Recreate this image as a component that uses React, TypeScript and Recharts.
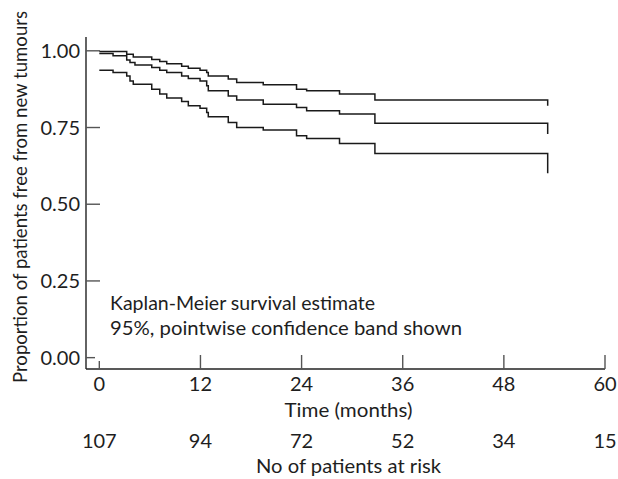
import React from 'react';
import { LineChart, Line, XAxis, YAxis } from 'recharts';

// Event times (months) at which any of the three step curves changes
const times = [0, 1.63, 3.25, 3.64, 4.03, 4.23, 6.22, 7.17, 8.0, 9.77, 10.56, 11.95, 12.74, 12.93, 15.3, 16.3, 19.45, 23.4, 24.6, 28.5, 32.7, 53.2];
// Upper 95% pointwise confidence limit
const upper = [0.998, 0.998, 0.989, 0.989, 0.98, 0.98, 0.972, 0.965, 0.958, 0.95, 0.943, 0.937, 0.929, 0.918, 0.908, 0.897, 0.889, 0.875, 0.87, 0.859, 0.84, 0.821];
// Kaplan-Meier estimate
const estimate = [0.991, 0.984, 0.97, 0.962, 0.962, 0.954, 0.946, 0.937, 0.929, 0.918, 0.91, 0.902, 0.886, 0.87, 0.853, 0.84, 0.826, 0.815, 0.805, 0.794, 0.764, 0.729];
// Lower 95% pointwise confidence limit
const lower = [0.937, 0.929, 0.918, 0.902, 0.891, 0.891, 0.875, 0.859, 0.846, 0.835, 0.821, 0.813, 0.799, 0.785, 0.766, 0.75, 0.742, 0.723, 0.714, 0.698, 0.665, 0.601];

const timeTicks = [0, 12, 24, 36, 48, 60];
const riskCounts = [107, 94, 72, 52, 34, 15];
const yTicks = [0, 0.25, 0.5, 0.75, 1];

const data = times.map((t, i) => ({ t, upper: upper[i], est: estimate[i], lower: lower[i] }));

const FONT = 'Lato, "Open Sans", sans-serif';
const FS = 20;
const TXT = '#1e1e1e';
const TICK = '#555';

const YTick = (props: any) => {
  const { x, y, payload } = props;
  const ax = x + 6;
  const len = payload.value === 0 ? 9 : 14;
  return (
    <g>
      <line x1={ax} x2={ax + len} y1={y} y2={y} stroke={TICK} strokeWidth={1.4} />
      <text x={x} y={y} dy="0.36em" textAnchor="end" fill={TXT} fontSize={FS} fontFamily={FONT}>
        {Number(payload.value).toFixed(2)}
      </text>
    </g>
  );
};

const XTick = (props: any) => {
  const { x, y, payload } = props;
  const ay = y - 8;
  const len = payload.value === 0 ? 8 : 14;
  return (
    <g>
      <line x1={x} x2={x} y1={ay} y2={ay - len} stroke={TICK} strokeWidth={1.4} />
      <text x={x} y={y} dy="0.71em" textAnchor="middle" fill={TXT} fontSize={FS} fontFamily={FONT}>
        {payload.value}
      </text>
    </g>
  );
};

const RiskTick = (props: any) => {
  const { x, y, payload } = props;
  const idx = timeTicks.indexOf(payload.value);
  return (
    <text x={x} y={y} dy="0.71em" textAnchor="middle" fill={TXT} fontSize={FS} fontFamily={FONT}>
      {idx >= 0 ? riskCounts[idx] : ''}
    </text>
  );
};

export default function App() {
  return (
    <div style={{ position: 'absolute', left: 0, top: 0, width: 618, height: 479, background: '#fff' }}>
      <LineChart width={618} height={479} data={data} margin={{ top: 37, right: 13, left: 0, bottom: 0 }}>
        <XAxis
          xAxisId="b_risk"
          dataKey="t"
          type="number"
          domain={[-1.58, 60]}
          allowDataOverflow
          ticks={timeTicks}
          interval={0}
          height={58}
          tickSize={0}
          tickMargin={13}
          tickLine={false}
          axisLine={false}
          tick={<RiskTick />}
          label={{
            content: (p: any) => {
              const vb = p.viewBox;
              return (
                <text x={vb.x + vb.width / 2 + 3} y={vb.y + 52} textAnchor="middle" fill={TXT} fontSize={FS} fontFamily={FONT} textLength={185} lengthAdjust="spacingAndGlyphs">
                  No of patients at risk
                </text>
              );
            },
          }}
        />
        <XAxis
          xAxisId="a_time"
          dataKey="t"
          type="number"
          domain={[-1.58, 60]}
          allowDataOverflow
          ticks={timeTicks}
          interval={0}
          height={52}
          tickSize={0}
          tickMargin={8}
          tickLine={false}
          tick={<XTick />}
          axisLine={{ stroke: '#222', strokeWidth: 1.4 }}
          label={{
            content: (p: any) => {
              const vb = p.viewBox;
              return (
                <text x={vb.x + vb.width / 2 + 3} y={vb.y + 48} textAnchor="middle" fill={TXT} fontSize={FS} fontFamily={FONT} textLength={128} lengthAdjust="spacingAndGlyphs">
                  Time (months)
                </text>
              );
            },
          }}
        />
        <YAxis
          type="number"
          domain={[-0.037, 1.045]}
          allowDataOverflow
          ticks={yTicks}
          interval={0}
          width={86}
          tickSize={0}
          tickMargin={6}
          tickLine={false}
          tick={<YTick />}
          axisLine={{ stroke: '#222', strokeWidth: 1.4 }}
          label={{
            content: (p: any) => {
              const vb = p.viewBox;
              const cx = vb.x + 27;
              const cy = vb.y + vb.height / 2 - 6;
              return (
                <text x={cx} y={cy} transform={`rotate(-90 ${cx} ${cy})`} textAnchor="middle" fill={TXT} fontSize={18.5} fontFamily={FONT} textLength={372} lengthAdjust="spacingAndGlyphs">
                  Proportion of patients free from new tumours
                </text>
              );
            },
          }}
        />
        <Line xAxisId="a_time" type="stepAfter" dataKey="upper" stroke="#1a1a1a" strokeWidth={1.5} dot={false} isAnimationActive={false} />
        <Line xAxisId="a_time" type="stepAfter" dataKey="est" stroke="#1a1a1a" strokeWidth={1.5} dot={false} isAnimationActive={false} />
        <Line xAxisId="a_time" type="stepAfter" dataKey="lower" stroke="#1a1a1a" strokeWidth={1.5} dot={false} isAnimationActive={false} />
      </LineChart>
      <svg width={618} height={479} style={{ position: 'absolute', left: 0, top: 0, pointerEvents: 'none' }}>
        <text x={110} y={310} fill={TXT} fontSize={FS} fontFamily={FONT} textLength={265} lengthAdjust="spacingAndGlyphs">Kaplan-Meier survival estimate</text>
        <text x={110} y={335} fill={TXT} fontSize={FS} fontFamily={FONT} textLength={352} lengthAdjust="spacingAndGlyphs">95%, pointwise confidence band shown</text>
      </svg>
    </div>
  );
}
